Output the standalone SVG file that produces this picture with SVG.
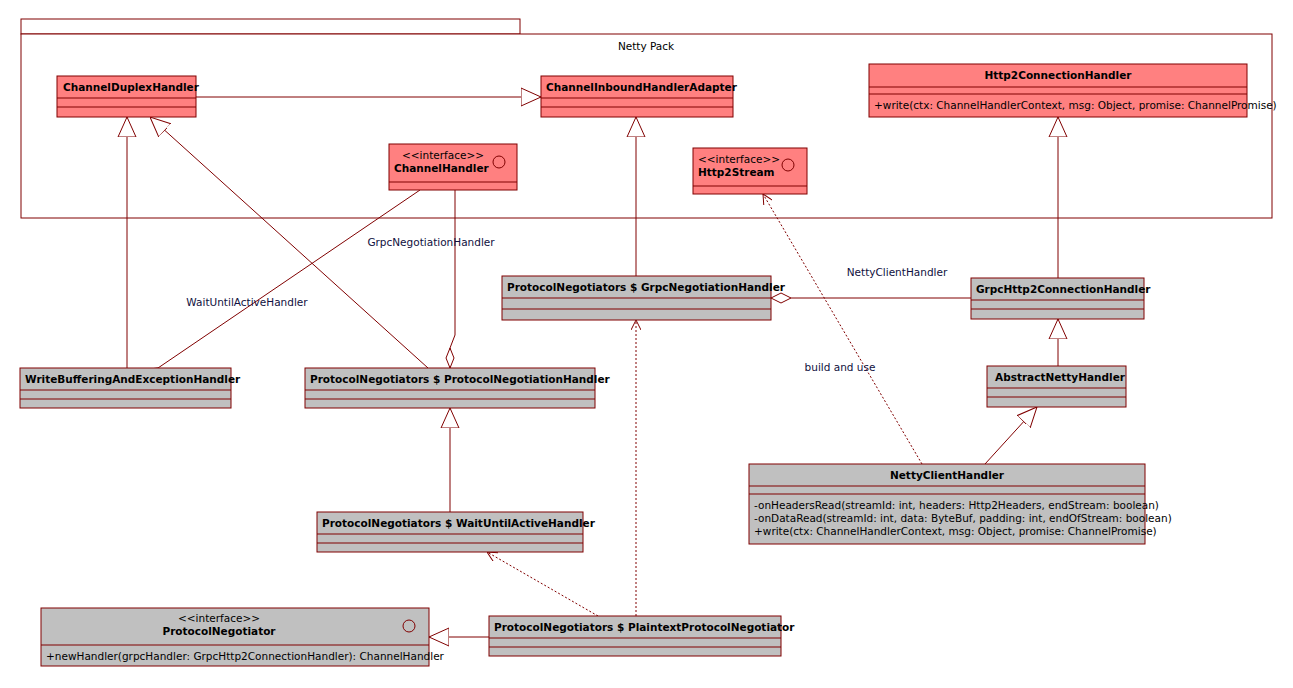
<svg xmlns="http://www.w3.org/2000/svg" width="1293" height="688" viewBox="0 0 1293 688">
<style>
text{font-family:"DejaVu Sans","Liberation Sans",sans-serif;font-size:10.5px;fill:#000}
.b{font-weight:bold}
.c{text-anchor:middle}
.lbl{fill:#101040}
.p{fill:#FF8080;stroke:#800000;stroke-width:1}
.g{fill:#C0C0C0;stroke:#800000;stroke-width:1}
.l{stroke:#800000;fill:none;stroke-width:1}
.d{stroke:#800000;fill:none;stroke-width:1;stroke-dasharray:2,2}
.t{fill:#fff;stroke:#800000}
</style>
<defs>
<marker id="tri" viewBox="0 0 20 20" refX="20" refY="10" markerWidth="20" markerHeight="20" markerUnits="userSpaceOnUse" orient="auto"><path d="M0,1L20,10L0,19Z" class="t"/></marker>
<marker id="dia" viewBox="0 0 20 12" refX="0" refY="6" markerWidth="20" markerHeight="12" markerUnits="userSpaceOnUse" orient="auto"><path d="M0,6L10,1L20,6L10,11Z" class="t"/></marker>
<marker id="arr" viewBox="0 0 10 10" refX="10" refY="5" markerWidth="10" markerHeight="10" markerUnits="userSpaceOnUse" orient="auto"><path d="M0,0L10,5L0,10" class="l"/></marker>
</defs>
<rect width="1293" height="688" fill="#fff"/>
<g id="package">
<rect x="21" y="19" width="499" height="15" fill="#fff" stroke="#800000"/>
<rect x="21" y="34" width="1251" height="184" fill="#fff" stroke="#800000"/>
<text x="646" y="50" class="c">Netty Pack</text>
</g>
<g id="connectors">
<line x1="196" y1="97" x2="541" y2="97" class="l" marker-end="url(#tri)"/>
<line x1="636" y1="276" x2="636" y2="117" class="l" marker-end="url(#tri)"/>
<line x1="1058" y1="278" x2="1058" y2="117" class="l" marker-end="url(#tri)"/>
<line x1="127" y1="368" x2="127" y2="117" class="l" marker-end="url(#tri)"/>
<line x1="428" y1="368" x2="150" y2="117" class="l" marker-end="url(#tri)"/>
<line x1="420" y1="190" x2="158" y2="368" class="l" marker-end="url(#dia)" transform=""/>
<path d="M455,190 L455,335 L450,348 L450,368" class="l"/>
<path d="M450,348 L446,358 L450,368 L454,358 Z" class="t"/>
<path d="M1058,366 L1058,319" class="l" marker-end="url(#tri)"/>
<line x1="985" y1="464" x2="1037" y2="407" class="l" marker-end="url(#tri)"/>
<line x1="922" y1="464" x2="763" y2="194" class="d" marker-end="url(#arr)"/>
<line x1="450" y1="512" x2="450" y2="408" class="l" marker-end="url(#tri)"/>
<line x1="598" y1="616" x2="487" y2="552" class="d" marker-end="url(#arr)"/>
<line x1="636" y1="616" x2="636" y2="320" class="d" marker-end="url(#arr)"/>
<line x1="489" y1="637" x2="429" y2="637" class="l" marker-end="url(#tri)"/>
<line x1="971" y1="298" x2="791" y2="298" class="l"/>
<path d="M771,298 L781,293 L791,298 L781,303 Z" class="t"/>
<text x="247" y="306" class="c lbl">WaitUntilActiveHandler</text>
<text x="431" y="246" class="c lbl">GrpcNegotiationHandler</text>
<text x="897" y="276" class="c lbl">NettyClientHandler</text>
<text x="840" y="371" class="c lbl">build and use</text>
</g>
<g id="ChannelDuplexHandler">
<rect x="57" y="76" width="139" height="41" class="p"/><path d="M57,98H196M57,107H196" class="l"/>
<text x="63" y="91" class="b">ChannelDuplexHandler</text></g>
<g id="ChannelInboundHandlerAdapter">
<rect x="541" y="76" width="192" height="41" class="p"/><path d="M541,98H733M541,107H733" class="l"/>
<text x="546" y="91" class="b">ChannelInboundHandlerAdapter</text></g>
<g id="Http2ConnectionHandler">
<rect x="869" y="64" width="378" height="53" class="p"/><path d="M869,87H1247M869,94H1247" class="l"/>
<text x="1058" y="79" class="b c">Http2ConnectionHandler</text>
<text x="874" y="109">+write(ctx: ChannelHandlerContext, msg: Object, promise: ChannelPromise)</text></g>
<g id="ChannelHandler">
<rect x="389" y="144" width="128" height="46" class="p"/><path d="M389,182H517" class="l"/>
<text x="402" y="159">&lt;&lt;interface&gt;&gt;</text><text x="394" y="172" class="b">ChannelHandler</text>
<circle cx="499" cy="162" r="6" class="l"/></g>
<g id="Http2Stream">
<rect x="693" y="148" width="114" height="46" class="p"/><path d="M693,186H807" class="l"/>
<text x="698" y="163">&lt;&lt;interface&gt;&gt;</text><text x="698" y="176" class="b">Http2Stream</text>
<circle cx="788" cy="165" r="6" class="l"/></g>
<g id="GrpcNegotiationHandler">
<rect x="502" y="276" width="269" height="44" class="g"/><path d="M502,298H771M502,309H771" class="l"/>
<text x="507" y="291" class="b">ProtocolNegotiators $ GrpcNegotiationHandler</text></g>
<g id="GrpcHttp2ConnectionHandler">
<rect x="971" y="278" width="173" height="41" class="g"/><path d="M971,300H1144M971,309H1144" class="l"/>
<text x="976" y="293" class="b">GrpcHttp2ConnectionHandler</text></g>
<g id="AbstractNettyHandler">
<rect x="987" y="366" width="139" height="41" class="g"/><path d="M987,388H1126M987,397H1126" class="l"/>
<text x="995" y="381" class="b">AbstractNettyHandler</text></g>
<g id="WriteBufferingAndExceptionHandler">
<rect x="20" y="368" width="211" height="40" class="g"/><path d="M20,390H231M20,399H231" class="l"/>
<text x="25" y="383" class="b">WriteBufferingAndExceptionHandler</text></g>
<g id="ProtocolNegotiationHandler">
<rect x="305" y="368" width="290" height="40" class="g"/><path d="M305,390H595M305,399H595" class="l"/>
<text x="310" y="383" class="b">ProtocolNegotiators $ ProtocolNegotiationHandler</text></g>
<g id="WaitUntilActiveHandler">
<rect x="317" y="512" width="266" height="40" class="g"/><path d="M317,534H583M317,543H583" class="l"/>
<text x="322" y="527" class="b">ProtocolNegotiators $ WaitUntilActiveHandler</text></g>
<g id="NettyClientHandler">
<rect x="749" y="464" width="396" height="80" class="g"/><path d="M749,486H1145M749,494H1145" class="l"/>
<text x="947" y="479" class="b c">NettyClientHandler</text>
<text x="754" y="509">-onHeadersRead(streamId: int, headers: Http2Headers, endStream: boolean)</text>
<text x="754" y="522">-onDataRead(streamId: int, data: ByteBuf, padding: int, endOfStream: boolean)</text>
<text x="754" y="535">+write(ctx: ChannelHandlerContext, msg: Object, promise: ChannelPromise)</text></g>
<g id="ProtocolNegotiator">
<rect x="41" y="608" width="388" height="58" class="g"/><path d="M41,645H429" class="l"/>
<text x="219" y="622" class="c">&lt;&lt;interface&gt;&gt;</text><text x="219" y="635" class="b c">ProtocolNegotiator</text>
<circle cx="409" cy="626" r="6" class="l"/>
<text x="46" y="660">+newHandler(grpcHandler: GrpcHttp2ConnectionHandler): ChannelHandler</text></g>
<g id="PlaintextProtocolNegotiator">
<rect x="489" y="616" width="292" height="40" class="g"/><path d="M489,638H781M489,647H781" class="l"/>
<text x="494" y="631" class="b">ProtocolNegotiators $ PlaintextProtocolNegotiator</text></g>
</svg>
